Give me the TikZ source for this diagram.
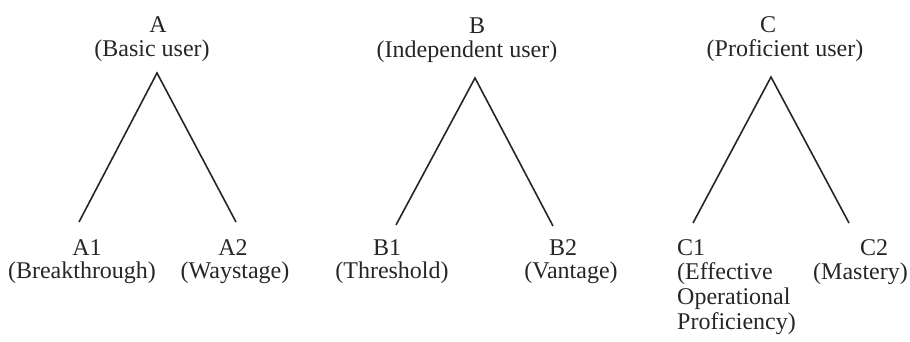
\documentclass[tikz,border=0pt]{standalone}
\usepackage{fontspec}
\setmainfont{Liberation Serif}
\begin{document}
\begin{tikzpicture}[x=1pt,y=-1pt,
  lbl/.style={inner sep=0pt, anchor=base, font=\fontsize{24}{26}\selectfont, text=black!85},
  lblleft/.style={lbl, anchor=base west},
  lblright/.style={lbl, anchor=base east},
  branch/.style={line width=1.6pt, draw=black!85}]
\useasboundingbox (0,0) rectangle (910,341);

% --- level headings
\node[lbl] (A)  at (158,32) {A};
\node[lbl] (Ad) at (152,56) {(Basic user)};
\node[lbl] (B)  at (477,33) {B};
\node[lbl] (Bd) at (467,57) {(Independent user)};
\node[lbl] (C)  at (768,32) {C};
\node[lbl] (Cd) at (785,56) {(Proficient user)};

% --- sub-levels
\node[lbl] (A1)  at (87,255)  {A1};
\node[lbl] (A1d) at (82,278)  {(Breakthrough)};
\node[lbl] (A2)  at (233,255) {A2};
\node[lbl] (A2d) at (235,278) {(Waystage)};

\node[lbl] (B1)  at (387,255) {B1};
\node[lbl] (B1d) at (392,278) {(Threshold)};
\node[lbl] (B2)  at (563,255) {B2};
\node[lbl] (B2d) at (571,278) {(Vantage)};

\node[lblleft] (C1)  at (677,255) {C1};
\node[lblleft] (C1a) at (677,279) {(Effective};
\node[lblleft] (C1b) at (677,304) {Operational};
\node[lblleft] (C1c) at (677,329) {Proficiency)};
\node[lbl] (C2)  at (874,255) {C2};
\node[lblright] (C2d) at (908,279) {(Mastery)};

% --- branch points
\coordinate (Atop) at (157,73);
\coordinate (A1top) at (79,222);
\coordinate (A2top) at (236,222);
\coordinate (Btop) at (475,78);
\coordinate (B1top) at (396,225);
\coordinate (B2top) at (553,226);
\coordinate (Ctop) at (771,77);
\coordinate (C1top) at (693,223);
\coordinate (C2top) at (849,223);

\draw[branch] (A1top) -- (Atop) -- (A2top);
\draw[branch] (B1top) -- (Btop) -- (B2top);
\draw[branch] (C1top) -- (Ctop) -- (C2top);
\end{tikzpicture}
\end{document}
